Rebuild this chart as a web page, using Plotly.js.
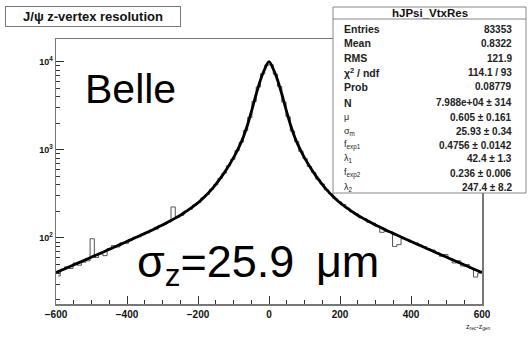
<!DOCTYPE html>
<html>
<head>
<meta charset="utf-8">
<script src="https://cdn.plot.ly/plotly-3.0.1.min.js"></script>
<style>html,body{margin:0;padding:0;background:#fff;}#chart{width:530px;height:339px;}</style>
</head>
<body>
<div id="chart"></div>
<script>
// Histogram bin centres (bin width 12, range -600..600)
var binCenters = [-594,-582,-570,-558,-546,-534,-522,-510,-498,-486,-474,-462,-450,-438,-426,-414,-402,-390,-378,-366,-354,-342,-330,-318,-306,-294,-282,-270,-258,-246,-234,-222,-210,-198,-186,-174,-162,-150,-138,-126,-114,-102,-90,-78,-66,-54,-42,-30,-18,-6,
6,18,30,42,54,66,78,90,102,114,126,138,150,162,174,186,198,210,222,234,246,258,270,282,294,306,318,330,342,354,366,378,390,402,414,426,438,450,462,474,486,498,510,522,534,546,558,570,582,594];
var binCounts = [37,44,47,45,52,49,53,55,98,60,66,63,76,82,79,88,87,96,102,103,112,114,124,126,139,143,152,225,172,181,201,212,236,252,285,312,358,402,474,545,660,783,980,1225,1660,2340,3550,5200,7320,9200,
9300,7250,5260,3500,2380,1640,1245,965,795,648,556,465,410,352,318,280,258,240,218,197,188,170,165,150,147,135,116,118,117,80,84,98,96,91,88,83,80,75,73,68,62,65,58,52,55,48,50,45,36,40];
// Fit curve
var fitX = [-600,-588,-576,-564,-552,-540,-528,-516,-504,-492,-480,-468,-456,-444,-432,-420,-408,-396,-384,-372,-360,-348,-336,-324,-312,-300,-288,-276,-264,-252,-240,-228,-216,-204,-192,-180,-168,-156,-144,-132,-120,-108,-96,-84,-72,-60,-48,-36,-24,-12,0,
12,24,36,48,60,72,84,96,108,120,132,144,156,168,180,192,204,216,228,240,252,264,276,288,300,312,324,336,348,360,372,384,396,408,420,432,444,456,468,480,492,504,516,528,540,552,564,576,588,600];
var fitY = [40.4,42.4,44.5,46.8,49.1,51.5,54.1,56.8,59.6,62.6,65.7,69.0,72.5,76.1,79.9,84.0,88.2,92.7,97.4,102.4,107.8,113.5,119.5,126,133,140.5,149,158,168,179,192,207,224,244,268,298,334,379,436,507,599,717,873,1089,1416,1958,2876,4317,6238,8307,10090,
8307,6238,4317,2876,1958,1416,1089,873,717,599,507,436,379,334,298,268,244,224,207,192,179,168,158,149,140.5,133,126,119.5,113.5,107.8,102.4,97.4,92.7,88.2,84.0,79.9,76.1,72.5,69.0,65.7,62.6,59.6,56.8,54.1,51.5,49.1,46.8,44.5,42.4,40.4];

var xTicks = [-600,-400,-200,0,200,400,600];
var yTicks = [100,1000,10000];
var yTickText = ['10<sup>2</sup>','10<sup>3</sup>','10<sup>4</sup>'];
var yMinor = [20,30,40,50,60,70,80,90,200,300,400,500,600,700,800,900,2000,3000,4000,5000,6000,7000,8000,9000];

var chartTitle = 'J/\u03c8 z-vertex resolution';
var statTitle = 'hJPsi_VtxRes';
var statLabels = ['Entries','Mean','RMS','\u03c7<sup>2</sup> / ndf','Prob','N','\u03bc','\u03c3<sub>m</sub>','f<sub>exp1</sub>','\u03bb<sub>1</sub>','f<sub>exp2</sub>','\u03bb<sub>2</sub>'];
var statValues = ['83353','0.8322','121.9','114.1 / 93','0.08779','7.988e+04 \u00b1 314','0.605 \u00b1 0.161','25.93 \u00b1 0.34','0.4756 \u00b1 0.0142','42.4 \u00b1 1.3','0.236 \u00b1 0.006','247.4 \u00b1 8.2'];
var statRowsY = [29,43,58,72,87,103,117,131,145,158,173,187];

// pixel -> paper helpers (plot area 56..482 x 39..304)
function PX(x){return (x-56)/426;}
function PY(y){return (304-y)/265;}

var FONT = 'Liberation Sans, Arial, Helvetica, sans-serif';

var traces = [
  {x: binCenters, y: binCounts, type:'scatter', mode:'lines', line:{shape:'hvh', color:'#555', width:1}, hoverinfo:'skip'},
  {x: fitX, y: fitY, type:'scatter', mode:'lines', line:{shape:'spline', color:'#000', width:2.8}, hoverinfo:'skip'}
];

var annotations = [
  {xref:'paper', yref:'paper', x:PX(93), y:PY(16.5), xanchor:'center', yanchor:'middle', text:'<b>'+chartTitle+'</b>', showarrow:false,
   font:{family:FONT, size:13, color:'#111'}, bgcolor:'#fff', bordercolor:'#777', borderwidth:1, width:172, height:17},
  {xref:'paper', yref:'paper', x:PX(83), y:PY(89), xanchor:'left', yanchor:'middle', text:'Belle', showarrow:false,
   font:{family:FONT, size:41, color:'#000'}},
  {xref:'paper', yref:'paper', x:PX(135), y:PY(264), xanchor:'left', yanchor:'middle', text:'\u03c3<sub>z</sub>=25.9\u2009 \u03bcm', showarrow:false,
   font:{family:FONT, size:45, color:'#000'}},
  {xref:'paper', yref:'paper', x:PX(478), y:PY(327), xanchor:'center', yanchor:'middle', text:'z<sub>rec</sub>-z<sub>gen</sub>', showarrow:false,
   font:{family:FONT, size:7, color:'#222'}},
  {xref:'paper', yref:'paper', x:PX(430), y:PY(13), xanchor:'center', yanchor:'middle', text:'<b>'+statTitle+'</b>', showarrow:false,
   font:{family:FONT, size:11.5, color:'#111'}}
];
for (var i=0;i<statLabels.length;i++){
  annotations.push({xref:'paper', yref:'paper', x:PX(342), y:PY(statRowsY[i]), xanchor:'left', yanchor:'middle', text:(i<6?'<b>'+statLabels[i]+'</b>':statLabels[i]), showarrow:false,
    font:{family:FONT, size:(i<6?10.5:9), color:'#222'}});
  annotations.push({xref:'paper', yref:'paper', x:PX(514), y:PY(statRowsY[i]), xanchor:'right', yanchor:'middle', text:'<b>'+statValues[i]+'</b>', showarrow:false,
    font:{family:FONT, size:10, color:'#222'}});
}

var shapes = [
  {type:'rect', xref:'paper', yref:'paper', x0:PX(333), x1:PX(526), y0:PY(193), y1:PY(7), fillcolor:'#fff', line:{color:'#888', width:1}, layer:'above'},
  {type:'line', xref:'paper', yref:'paper', x0:PX(333), x1:PX(526), y0:PY(19), y1:PY(19), line:{color:'#888', width:1}, layer:'above'}
];

var layout = {
  width:530, height:339,
  margin:{l:56, r:48, t:39, b:35, pad:0},
  paper_bgcolor:'#fff', plot_bgcolor:'#fff',
  showlegend:false,
  font:{family:FONT, color:'#111'},
  xaxis:{range:[-600,600], tickvals:xTicks, ticks:'inside', ticklen:8, tickwidth:1, tickcolor:'#333',
    showline:true, linecolor:'#777', linewidth:1.5, mirror:true, showgrid:false, zeroline:false,
    tickfont:{family:FONT, size:10, color:'#111', weight:'bold'},
    minor:{ticks:'inside', ticklen:4, dtick:50, tick0:0, tickcolor:'#333', showgrid:false}},
  yaxis:{type:'log', range:[1.25,4.26], tickvals:yTicks, ticktext:yTickText, ticks:'inside', ticklen:8, tickwidth:1, tickcolor:'#333',
    showline:true, linecolor:'#777', linewidth:1.5, mirror:true, showgrid:false, zeroline:false,
    tickfont:{family:FONT, size:9, color:'#111', weight:'bold'},
    minor:{ticks:'inside', ticklen:4, tickvals:yMinor, tickcolor:'#333', showgrid:false}},
  annotations:annotations,
  shapes:shapes
};

Plotly.newPlot('chart', traces, layout, {staticPlot:true, displayModeBar:false});
</script>
</body>
</html>
